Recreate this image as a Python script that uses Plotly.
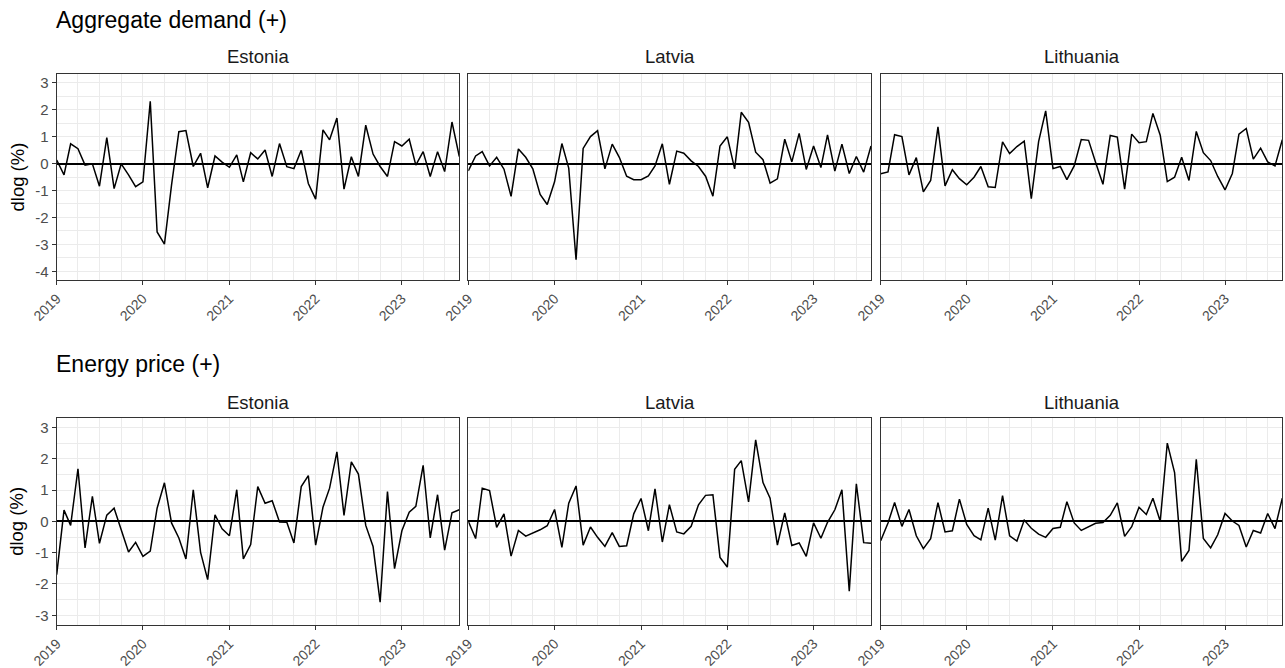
import pandas as pd
import plotly.graph_objects as go

# ---------------- data ----------------
dates = pd.date_range("2019-01-01", periods=57, freq="MS")
countries = ["Estonia", "Latvia", "Lithuania"]
sections = ["Aggregate demand (+)", "Energy price (+)"]
year_ticks = ["2019-01-01", "2020-01-01", "2021-01-01", "2022-01-01", "2023-01-01"]
year_labels = ["2019", "2020", "2021", "2022", "2023"]
y_ticks_top = [-4, -3, -2, -1, 0, 1, 2, 3]
y_ticks_bottom = [-3, -2, -1, 0, 1, 2, 3]

ad_estonia = [0.13, -0.42, 0.73, 0.55, -0.06, -0.01, -0.84, 0.96, -0.93, -0.01, -0.42, -0.86,
              -0.68, 2.31, -2.54, -2.99, -0.8, 1.18, 1.22, -0.11, 0.38, -0.9, 0.28, 0.05,
              -0.14, 0.32, -0.68, 0.4, 0.17, 0.5, -0.48, 0.74, -0.12, -0.19, 0.49, -0.74,
              -1.32, 1.25, 0.88, 1.69, -0.95, 0.25, -0.48, 1.42, 0.35, -0.11, -0.48, 0.81,
              0.65, 0.9, -0.06, 0.44, -0.48, 0.44, -0.3, 1.54, 0.26]
ad_latvia = [-0.27, 0.28, 0.44, -0.09, 0.23, -0.21, -1.22, 0.54, 0.23, -0.2, -1.15, -1.52,
             -0.68, 0.74, -0.17, -3.57, 0.56, 1.0, 1.22, -0.2, 0.72, 0.23, -0.47, -0.6,
             -0.6, -0.46, -0.09, 0.73, -0.77, 0.46, 0.38, 0.1, -0.11, -0.47, -1.21, 0.65,
             0.99, -0.2, 1.9, 1.53, 0.42, 0.14, -0.73, -0.57, 0.9, 0.06, 1.12, -0.22,
             0.65, -0.15, 1.06, -0.28, 0.72, -0.37, 0.26, -0.32, 0.65]
ad_lithuania = [-0.38, -0.31, 1.07, 1.0, -0.42, 0.22, -1.05, -0.63, 1.36, -0.83, -0.23, -0.56,
                -0.79, -0.51, -0.11, -0.86, -0.89, 0.8, 0.37, 0.63, 0.83, -1.3, 0.81, 1.95,
                -0.19, -0.11, -0.6, -0.09, 0.89, 0.86, 0.04, -0.77, 1.04, 0.98, -0.95, 1.09,
                0.77, 0.81, 1.86, 1.05, -0.67, -0.51, 0.23, -0.63, 1.19, 0.4, 0.11, -0.48,
                -0.98, -0.37, 1.09, 1.3, 0.16, 0.57, 0.06, -0.09, 0.88]
ep_estonia = [-1.7, 0.36, -0.13, 1.68, -0.85, 0.8, -0.7, 0.2, 0.42, -0.3, -0.98, -0.67,
              -1.12, -0.95, 0.42, 1.23, -0.05, -0.53, -1.2, 1.01, -0.99, -1.86, 0.21, -0.24,
              -0.46, 1.01, -1.2, -0.74, 1.11, 0.58, 0.66, -0.02, -0.03, -0.69, 1.11, 1.46,
              -0.76, 0.45, 1.06, 2.22, 0.19, 1.9, 1.51, -0.13, -0.8, -2.58, 0.95, -1.51,
              -0.3, 0.29, 0.48, 1.79, -0.53, 0.85, -0.92, 0.27, 0.37]
ep_latvia = [0.0, -0.55, 1.06, 0.98, -0.19, 0.24, -1.11, -0.29, -0.47, -0.38, -0.27, -0.14,
             0.38, -0.83, 0.58, 1.13, -0.76, -0.18, -0.51, -0.8, -0.36, -0.8, -0.78, 0.24,
             0.73, -0.3, 1.04, -0.66, 0.53, -0.34, -0.4, -0.16, 0.53, 0.83, 0.85, -1.15,
             -1.46, 1.66, 1.94, 0.62, 2.6, 1.24, 0.74, -0.76, 0.27, -0.77, -0.69, -1.12,
             -0.05, -0.54, -0.03, 0.37, 1.01, -2.23, 1.2, -0.68, -0.7]
ep_lithuania = [-0.62, -0.05, 0.6, -0.16, 0.38, -0.46, -0.87, -0.55, 0.6, -0.34, -0.3, 0.71,
                -0.1, -0.46, -0.59, 0.42, -0.6, 0.82, -0.46, -0.63, 0.04, -0.22, -0.41, -0.51,
                -0.23, -0.19, 0.63, -0.05, -0.29, -0.16, -0.06, -0.04, 0.19, 0.59, -0.48, -0.17,
                0.45, 0.22, 0.74, 0.0, 2.5, 1.56, -1.28, -0.93, 1.98, -0.55, -0.85, -0.43,
                0.25, 0.01, -0.13, -0.82, -0.29, -0.37, 0.25, -0.23, 0.74]

series = [[ad_estonia, ad_latvia, ad_lithuania],
          [ep_estonia, ep_latvia, ep_lithuania]]

# ---------------- layout geometry (pixels) ----------------
W, H = 1285, 668
FONT = "Liberation Sans, Arial, Helvetica, sans-serif"
col_px = [(56.7, 459.3), (468.3, 871.0), (880.7, 1282.3)]
row_px = [(74.0, 280.0), (417.7, 625.0)]
row_yrange = [[-4.32, 3.32], [-3.31, 3.31]]
row_yticks = [y_ticks_top, y_ticks_bottom]
strip_y_px = [57, 402]
title_y_px = [20, 364]


def fx(p):
    return p / W


def fy(p):
    return 1 - p / H


fig = go.Figure()
annotations = []
k = 0
for r in range(2):
    for c in range(3):
        k += 1
        xa = "x" if k == 1 else f"x{k}"
        ya = "y" if k == 1 else f"y{k}"
        fig.add_trace(go.Scatter(x=dates, y=series[r][c], mode="lines",
                                 line=dict(color="black", width=1.5),
                                 xaxis=xa, yaxis=ya, showlegend=False,
                                 hoverinfo="x+y"))
        xkey = "xaxis" if k == 1 else f"xaxis{k}"
        ykey = "yaxis" if k == 1 else f"yaxis{k}"
        fig.layout[xkey] = dict(
            domain=[fx(col_px[c][0]), fx(col_px[c][1])],
            anchor=ya, type="date", automargin=False,
            range=[dates[0], dates[-1]],
            tickmode="array", tickvals=year_ticks, ticktext=year_labels,
            tickangle=-45, ticks="outside", ticklen=4, tickcolor="#333333",
            tickfont=dict(family=FONT, size=14, color="#4D4D4D"),
            showgrid=True, gridcolor="#EBEBEB", gridwidth=1.1,
            minor=dict(dtick="M3", tick0="2019-01-01", showgrid=True,
                       gridcolor="#EBEBEB", gridwidth=0.6),
            showline=True, mirror=True, linecolor="#333333", linewidth=1.2,
            zeroline=False,
        )
        fig.layout[ykey] = dict(
            domain=[fy(row_px[r][1]), fy(row_px[r][0])],
            anchor=xa, range=row_yrange[r], automargin=False,
            tickmode="array", tickvals=row_yticks[r],
            ticktext=[str(v) for v in row_yticks[r]],
            showticklabels=(c == 0), ticks="outside" if c == 0 else "",
            ticklen=4, tickcolor="#333333",
            tickfont=dict(family=FONT, size=15, color="#4D4D4D"),
            showgrid=True, gridcolor="#EBEBEB", gridwidth=1.1,
            minor=dict(dtick=0.5, tick0=0, showgrid=True,
                       gridcolor="#EBEBEB", gridwidth=0.6),
            showline=True, mirror=True, linecolor="#333333", linewidth=1.2,
            zeroline=True, zerolinecolor="black", zerolinewidth=1.5,
        )
        # strip label
        annotations.append(dict(
            text=countries[c], xref="paper", yref="paper",
            x=fx((col_px[c][0] + col_px[c][1]) / 2), y=fy(strip_y_px[r]),
            xanchor="center", yanchor="middle", showarrow=False,
            font=dict(family=FONT, size=18.5, color="#1A1A1A")))
    # section title
    annotations.append(dict(
        text=sections[r], xref="paper", yref="paper",
        x=fx(54), y=fy(title_y_px[r]), xanchor="left", yanchor="middle",
        showarrow=False, font=dict(family=FONT, size=23, color="black")))
    # y-axis title
    annotations.append(dict(
        text="dlog (%)", xref="paper", yref="paper",
        x=fx(16.5), y=fy((row_px[r][0] + row_px[r][1]) / 2),
        xanchor="center", yanchor="middle", textangle=-90, showarrow=False,
        font=dict(family=FONT, size=18.5, color="black")))

fig.update_layout(
    width=W, height=H, autosize=False,
    margin=dict(l=0, r=0, t=0, b=0),
    paper_bgcolor="white", plot_bgcolor="white",
    annotations=annotations,
    showlegend=False,
)

fig.write_html("out.html")
